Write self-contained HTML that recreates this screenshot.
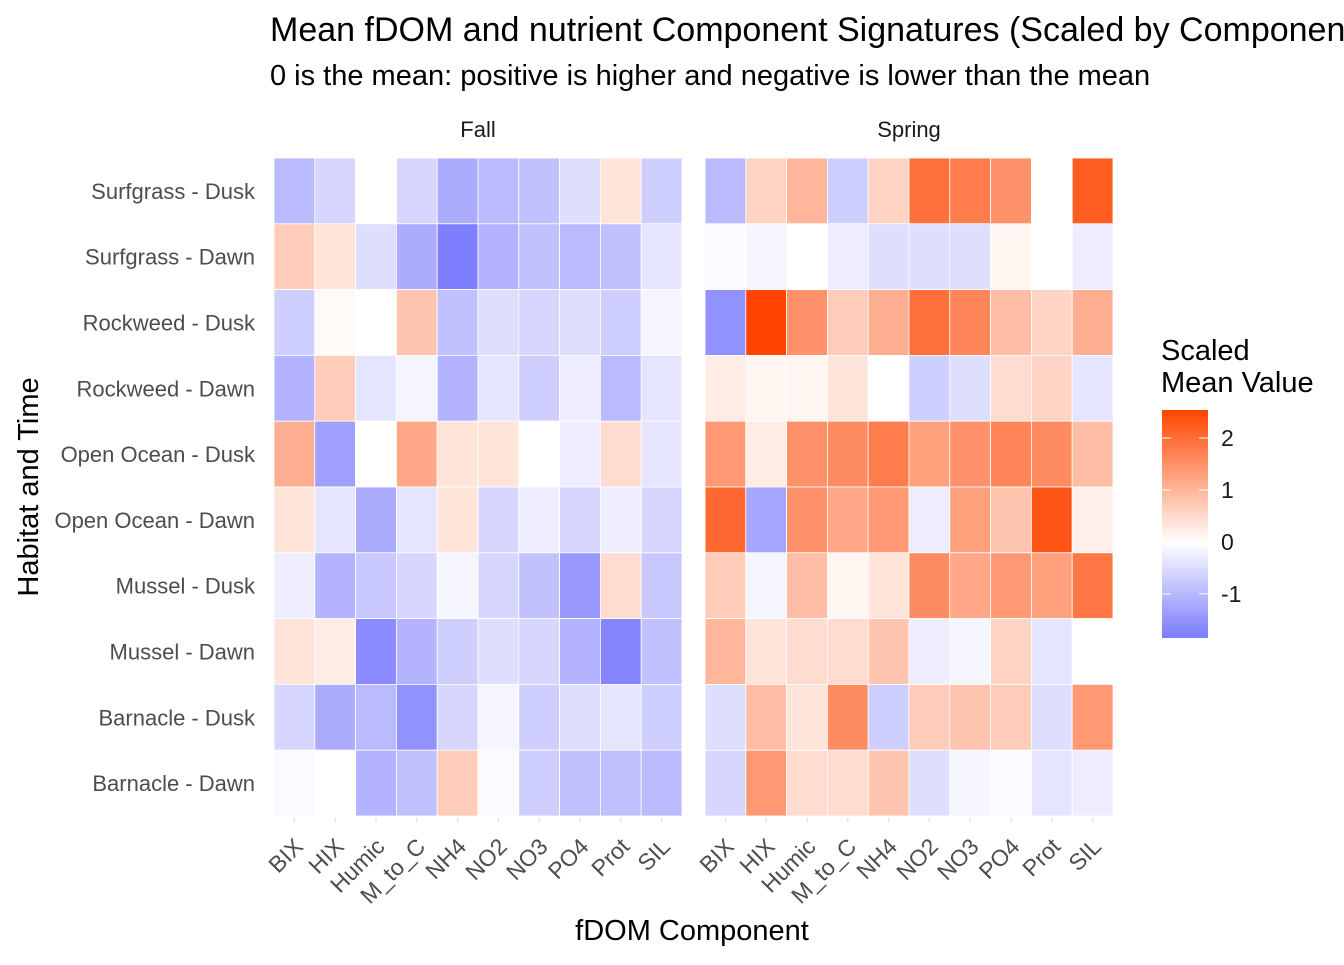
<!DOCTYPE html>
<html><head><meta charset="utf-8"><style>
body{margin:0;background:#fff;font-family:"Liberation Sans",Arial,sans-serif}
svg text{font-family:"Liberation Sans",Arial,sans-serif}
</style></head><body>
<svg id="chart" width="1344" height="960" viewBox="0 0 1344 960">
<text x="270" y="41" font-size="34" fill="#000">Mean fDOM and nutrient Component Signatures (Scaled by Component)</text>
<text x="270" y="85" font-size="29" fill="#000">0 is the mean: positive is higher and negative is lower than the mean</text>
<text x="692" y="940" font-size="29" text-anchor="middle" fill="#000">fDOM Component</text>
<text transform="translate(38,487) rotate(-90)" font-size="29" text-anchor="middle" fill="#000">Habitat and Time</text>
<g id="panels"></g>
<g>
<text x="1161" y="360" font-size="29">Scaled</text>
<text x="1161" y="392" font-size="29">Mean Value</text>
<defs><linearGradient id="lg" x1="0" y1="1" x2="0" y2="0">
<stop offset="0" stop-color="#7b7bff"/><stop offset="0.42" stop-color="#ffffff"/><stop offset="1" stop-color="#ff4500"/></linearGradient></defs>
<rect x="1162" y="410" width="46" height="228" fill="url(#lg)"/>
<g id="legticks"></g>
</g>
</svg>
<script>
const components=["BIX","HIX","Humic","M_to_C","NH4","NO2","NO3","PO4","Prot","SIL"];
const rows=["Surfgrass - Dusk","Surfgrass - Dawn","Rockweed - Dusk","Rockweed - Dawn","Open Ocean - Dusk","Open Ocean - Dawn","Mussel - Dusk","Mussel - Dawn","Barnacle - Dusk","Barnacle - Dawn"];
const panelsNames=["Fall","Spring"];
const fallValues=[
[-0.9,-0.5,0,-0.5,-1.1,-0.9,-0.8,-0.4,0.3,-0.6],
[0.6,0.3,-0.4,-1.1,-1.8,-1.0,-0.8,-0.9,-0.8,-0.3],
[-0.6,0.05,0,0.7,-0.8,-0.4,-0.5,-0.4,-0.6,-0.1],
[-1.0,0.6,-0.3,-0.1,-1.0,-0.3,-0.6,-0.2,-0.9,-0.3],
[1.0,-1.3,0,1.1,0.3,0.3,0,-0.2,0.4,-0.3],
[0.3,-0.3,-1.1,-0.3,0.3,-0.5,-0.2,-0.5,-0.2,-0.5],
[-0.2,-1.0,-0.7,-0.5,-0.1,-0.5,-0.8,-1.4,0.4,-0.7],
[0.3,0.2,-1.6,-1.0,-0.6,-0.4,-0.5,-1.0,-1.7,-0.8],
[-0.5,-1.1,-0.9,-1.5,-0.5,-0.1,-0.6,-0.4,-0.3,-0.6],
[-0.05,0,-1.0,-0.8,0.6,-0.05,-0.6,-0.8,-0.8,-0.9]];
const springValues=[
[-0.9,0.5,0.9,-0.6,0.5,1.9,1.7,1.4,0,2.2],
[-0.05,-0.1,0,-0.2,-0.4,-0.4,-0.4,0.1,0,-0.2],
[-1.5,2.54,1.4,0.6,1.0,1.9,1.6,0.8,0.5,1.0],
[0.2,0.1,0.1,0.3,0,-0.6,-0.4,0.4,0.5,-0.3],
[1.3,0.2,1.4,1.5,1.7,1.2,1.4,1.6,1.5,0.8],
[2.0,-1.2,1.4,1.1,1.3,-0.2,1.2,0.7,2.3,0.15],
[0.6,-0.1,0.8,0.1,0.3,1.5,1.1,1.3,1.2,1.8],
[0.9,0.3,0.4,0.4,0.7,-0.2,-0.1,0.5,-0.3,0],
[-0.4,0.8,0.3,1.5,-0.6,0.6,0.7,0.6,-0.4,1.3],
[-0.5,1.3,0.4,0.4,0.7,-0.4,-0.1,-0.05,-0.3,-0.2]];
const legendTicks=[2,1,0,-1];
const NS="http://www.w3.org/2000/svg";
const panelX=[274,705], panelW=408, plotTop=158, plotBottom=816;
const vMin=-1.85, vMax=2.54;
function xPos(p,i){return panelX[p]+i*panelW/components.length;}
function yPos(j){return plotTop+j*(plotBottom-plotTop)/rows.length;}
function legY(v){return 638-(v-vMin)/(vMax-vMin)*228;}
function color(v){
  let a,b,t;
  if(v>=0){a=[255,255,255];b=[255,69,0];t=Math.min(v/vMax,1);}
  else{a=[255,255,255];b=[123,123,255];t=Math.min(v/vMin,1);}
  t=Math.pow(t,0.9);
  return "rgb("+a.map((c,k)=>Math.round(c+(b[k]-c)*t)).join(",")+")";
}
function mk(tag,attrs,parent){const e=document.createElementNS(NS,tag);for(const k in attrs)e.setAttribute(k,attrs[k]);parent.appendChild(e);return e;}
const g=document.getElementById("panels");
const cw=panelW/components.length, ch=(plotBottom-plotTop)/rows.length;
[fallValues,springValues].forEach((vals,p)=>{
  const s=mk("text",{x:panelX[p]+panelW/2,y:137,"font-size":22,"text-anchor":"middle",fill:"#1a1a1a"},g);
  
  
  s.textContent=panelsNames[p];
  rows.forEach((r,j)=>{components.forEach((c,i)=>{
    const rc=mk("rect",{x:xPos(p,i),y:yPos(j),width:cw,height:ch,fill:color(vals[j][i]),stroke:"#fff","stroke-width":0.8},g);
    
    
  });});
  components.forEach((c,i)=>{
    const cx=xPos(p,i)+cw/2;
    mk("line",{x1:cx,x2:cx,y1:818,y2:823,stroke:"#e0e0e0","stroke-width":1.2},g);
    const t=mk("text",{transform:"translate("+(cx+10)+",848) rotate(-45)","font-size":23,"text-anchor":"end",fill:"#4d4d4d"},g);
    
    
    t.textContent=c;
  });
});
rows.forEach((r,j)=>{
  const t=mk("text",{x:255,y:yPos(j)+ch/2+8,"font-size":22,"text-anchor":"end",fill:"#4d4d4d"},g);
  
  
  t.textContent=r;
});
const lt=document.getElementById("legticks");
legendTicks.forEach(v=>{
  const y=legY(v);
  mk("line",{x1:1162,x2:1171,y1:y,y2:y,stroke:"#fff","stroke-width":1},lt);
  mk("line",{x1:1199,x2:1208,y1:y,y2:y,stroke:"#fff","stroke-width":1},lt);
  const t=mk("text",{x:1221,y:y+8,"font-size":23,fill:"#1a1a1a"},lt);
  
  
  t.textContent=v;
});
</script>
</body></html>
